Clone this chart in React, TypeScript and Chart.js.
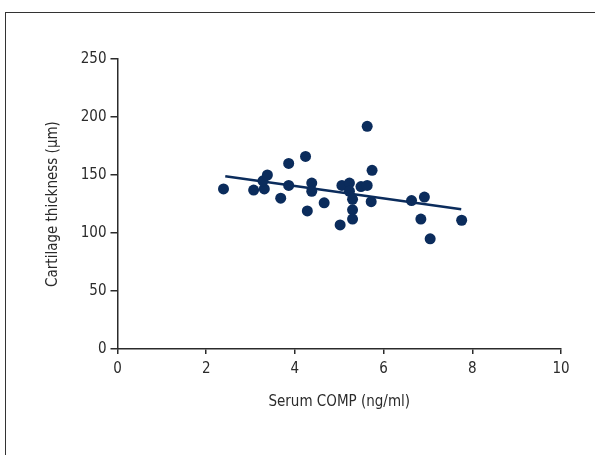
import { useEffect, useRef } from "react";
import { Chart, registerables } from "chart.js";

Chart.register(...registerables);

const compX = [2.39, 3.07, 3.31, 3.28, 3.38, 3.86, 3.86, 3.68, 4.24, 4.38, 4.38, 4.28, 4.66, 5.02, 5.06, 5.23, 5.23, 5.3, 5.3, 5.3, 5.49, 5.63, 5.63, 5.74, 5.72, 6.63, 6.92, 6.84, 7.05, 7.76];
const thickness = [138, 137, 138, 145, 150, 160, 141, 130, 166, 143, 136, 119, 126, 107, 141, 143, 136, 129, 120, 112, 140, 141, 192, 154, 127, 128, 131, 112, 95, 111];

const trendX = [2.43, 7.75];
const trendY = [148.9, 120.4];

const xTitle = "Serum COMP (ng/ml)";
const yTitle = "Cartilage thickness (µm)";

const NAVY = "#0b2c5c";
const INK = "#2b2b2b";
const FONT = '"Liberation Sans Narrow", "DejaVu Sans Condensed", "Arial Narrow", sans-serif';

export default function App() {
  const ref = useRef<HTMLCanvasElement>(null);

  useEffect(() => {
    const canvas = ref.current;
    if (!canvas) return;
    const chart = new Chart(canvas, {
      type: "scatter",
      data: {
        datasets: [
          {
            data: compX.map((x, i) => ({ x, y: thickness[i] })),
            backgroundColor: NAVY,
            borderColor: NAVY,
            pointRadius: 5.5,
            pointHoverRadius: 5.5,
            borderWidth: 0,
          },
          {
            type: "line",
            data: trendX.map((x, i) => ({ x, y: trendY[i] })),
            borderColor: NAVY,
            borderWidth: 2.5,
            pointRadius: 0,
            fill: false,
          } as any,
        ],
      },
      options: {
        responsive: false,
        animation: false,
        layout: { padding: { left: 44, top: 59, right: 34, bottom: 44 } },
        plugins: { legend: { display: false }, tooltip: { enabled: false } },
        scales: {
          x: {
            type: "linear",
            min: 0,
            max: 10,
            ticks: { stepSize: 2, color: INK, font: { family: FONT, size: 15 }, padding: 6, maxRotation: 0 },
            grid: { drawOnChartArea: false, drawTicks: true, tickLength: 5, color: INK, lineWidth: 1.5 },
            border: { color: INK, width: 1.5 },
            title: { display: true, text: xTitle, color: INK, font: { family: FONT, size: 15 }, padding: 0 },
            afterFit: (s: any) => {
              s.height = 62;
            },
          },
          y: {
            type: "linear",
            min: 0,
            max: 250,
            ticks: { stepSize: 50, color: INK, font: { family: FONT, size: 15 }, padding: 4 },
            grid: { drawOnChartArea: false, drawTicks: true, tickLength: 7, color: INK, lineWidth: 1.5 },
            border: { color: INK, width: 1.5 },
            title: { display: true, text: yTitle, color: INK, font: { family: FONT, size: 15 }, padding: 0 },
            afterFit: (s: any) => {
              s.width = 73.5;
            },
          },
        },
      },
    });
    return () => chart.destroy();
  }, []);

  return (
    <div style={{ position: "fixed", left: 0, top: 0, width: 595, height: 455, background: "#fff", overflow: "hidden" }}>
      <div
        style={{
          position: "absolute",
          left: 5,
          top: 12,
          width: 700,
          height: 600,
          borderTop: "1.5px solid #333",
          borderLeft: "1.5px solid #333",
        }}
      />
      <canvas ref={ref} width={595} height={455} style={{ position: "absolute", left: 0, top: 0, display: "block" }} />
    </div>
  );
}
